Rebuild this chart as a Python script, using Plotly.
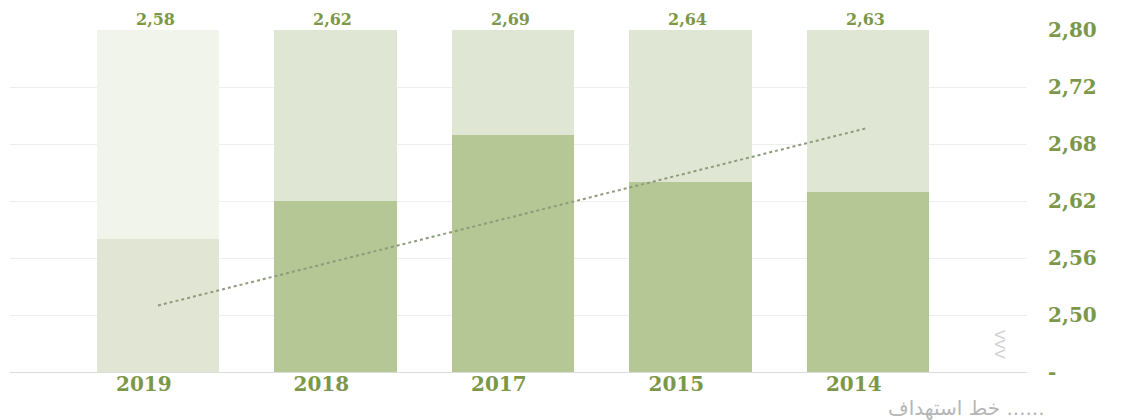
import plotly.graph_objects as go

# ---- data ----
years = ["2019", "2018", "2017", "2015", "2014"]
values = [2.58, 2.62, 2.69, 2.64, 2.63]
value_labels = ["2,58", "2,62", "2,69", "2,64", "2,63"]
bar_ceiling = [2.80, 2.80, 2.80, 2.80, 2.80]
target_years = ["2019", "2014"]
target_values = [2.51, 2.697]
y_tickvals = [2.44, 2.50, 2.56, 2.62, 2.68, 2.74, 2.80]
y_ticktext = ["-", "2,50", "2,56", "2,62", "2,68", "2,72", "2,80"]
legend_text = "خط استهداف ......"

# ---- style ----
bg_colors = ["#f1f4ea", "#dfe6d3", "#dfe6d3", "#dfe6d3", "#dfe6d3"]
fg_colors = ["#e0e6d3", "#b5c795", "#b5c795", "#b5c795", "#b5c795"]
green_txt = "#7d9748"
serif = "DejaVu Serif"
label_shift = -0.08  # year labels sit slightly left of bar centres

xpos = list(range(len(years)))
target_x = [years.index(y) for y in target_years]

fig = go.Figure()
fig.add_trace(go.Bar(
    x=xpos, y=bar_ceiling, width=0.69,
    marker=dict(color=bg_colors, line=dict(width=0)),
    hoverinfo="skip", showlegend=False,
))
fig.add_trace(go.Bar(
    x=xpos, y=values, width=0.69,
    marker=dict(color=fg_colors, line=dict(width=0)),
    showlegend=False,
))
fig.add_trace(go.Scatter(
    x=target_x, y=target_values, mode="lines",
    line=dict(color="#8e9b7c", width=2, dash="dot"),
    showlegend=False,
))

annotations = [
    dict(text=lbl, x=xi - 0.015, y=top, xref="x", yref="y",
         xanchor="center", yanchor="bottom", yshift=0, showarrow=False,
         borderpad=0,
         font=dict(family=serif, size=16, color=green_txt, weight="bold"))
    for xi, top, lbl in zip(xpos, bar_ceiling, value_labels)
]
plot_h = 420 - 22 - 56
annotations += [
    dict(text=legend_text, xref="paper", yref="paper",
         x=(1047 - 10) / 1017, y=(372 - 408) / plot_h,
         xanchor="right", yanchor="middle", showarrow=False,
         font=dict(family="DejaVu Sans", size=20, color="#b6b6b6")),
    dict(text="VVV", xref="paper", yref="paper",
         x=(1000 - 10) / 1017, y=(372 - 344) / plot_h,
         xanchor="center", yanchor="middle", showarrow=False, textangle=90,
         font=dict(family="DejaVu Sans", size=14, color="#d0d0d0")),
]

# page body adds an 8px offset; margins compensate so the plot sits at x 10-1027, y 30-372
fig.update_layout(
    width=1136, height=420,
    margin=dict(l=2, r=117, t=22, b=56),
    barmode="overlay",
    bargap=0,
    plot_bgcolor="white", paper_bgcolor="white",
    xaxis=dict(
        range=[-0.834, 4.896],
        tickvals=[p + label_shift for p in xpos], ticktext=years,
        tickfont=dict(family=serif, size=20, color=green_txt, weight="bold"),
        showgrid=False, zeroline=False,
        showline=True, linecolor="#dcdcdc", linewidth=1,
        ticks="", ticklabelstandoff=-6, automargin=False,
    ),
    yaxis=dict(
        range=[2.44, 2.80], side="right",
        tickvals=y_tickvals, ticktext=y_ticktext,
        tickfont=dict(family=serif, size=20, color=green_txt, weight="bold"),
        showgrid=True, gridcolor="#eeeeee", gridwidth=1,
        zeroline=False, showline=False,
        ticks="outside", ticklen=16, tickcolor="rgba(0,0,0,0)", automargin=False,
    ),
    annotations=annotations,
)

fig.write_html("out.html")
